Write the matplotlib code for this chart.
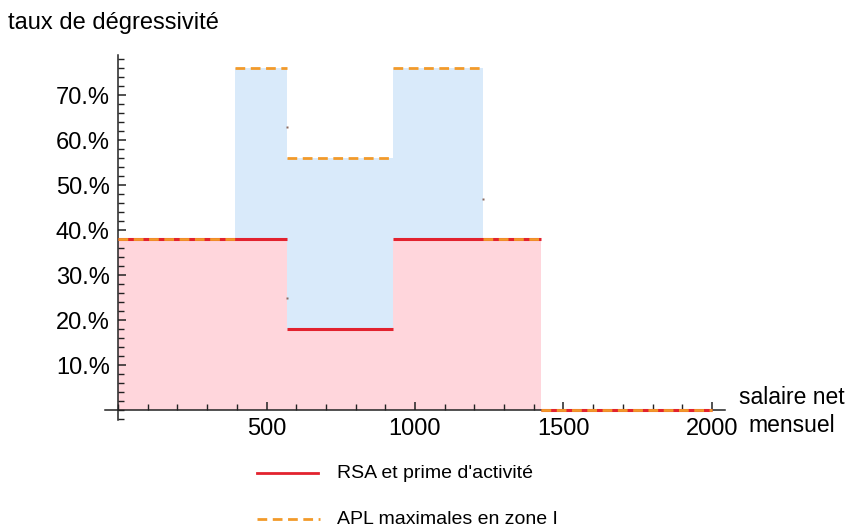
import matplotlib
matplotlib.use("Agg")
import matplotlib.pyplot as plt
import numpy as np
from matplotlib.ticker import MultipleLocator, FixedLocator
from matplotlib.lines import Line2D

plt.rcParams['font.family'] = ['Liberation Sans', 'DejaVu Sans']

# Data (net monthly salary breakpoints, degressivity rates in %)
rsa_edges = [0, 570, 925, 1425, 2000]
rsa_rates = [38, 18, 38, 0]
apl_edges = [0, 395, 570, 925, 1230, 1425, 2000]
apl_rates = [38, 76, 56, 76, 38, 0]
# small isolated points at discontinuities
dots_x = [570, 570, 1230]
dots_y = [63, 25, 47]

ytick_vals = [10, 20, 30, 40, 50, 60, 70]
ytick_labels = ["10.%", "20.%", "30.%", "40.%", "50.%", "60.%", "70.%"]
xtick_vals = [500, 1000, 1500, 2000]

RED = '#e2222e'
ORANGE = '#f29a2a'
PINK = '#ffd6dc'
BLUE = '#d9eafa'

W, H = 853, 529
fig = plt.figure(figsize=(W / 100, H / 100), dpi=100)
ax = fig.add_axes([105 / W, 1 - 420 / H, (725 - 105) / W, (420 - 55) / H])

ax.set_xlim(-44, 2044)
ax.set_ylim(-2.2, 79)

def step_fill(edges, rates, color):
    e = np.asarray(edges, float)
    r = np.append(rates, rates[-1])
    ax.fill_between(e, 0, r, step='post', color=color, lw=0, zorder=1)

step_fill(apl_edges, apl_rates, BLUE)
step_fill(rsa_edges, rsa_rates, PINK)

ax.hlines(rsa_rates, rsa_edges[:-1], rsa_edges[1:], colors=RED, lw=2.2, zorder=3)
ax.hlines(apl_rates, apl_edges[:-1], apl_edges[1:], colors=ORANGE, lw=2.0,
          linestyles=(0, (3.5, 2)), zorder=4)
ax.plot(dots_x, dots_y, 's', ms=2, color='#8a6a60', mec='none', zorder=5)

for s in ['top', 'right']:
    ax.spines[s].set_visible(False)
ax.spines['left'].set_position(('data', 0))
ax.spines['bottom'].set_position(('data', 0))
for s in ['left', 'bottom']:
    ax.spines[s].set_linewidth(1.1)
    ax.spines[s].set_color('#222222')

ax.yaxis.set_major_locator(FixedLocator(ytick_vals))
ax.set_yticklabels(ytick_labels)
ax.yaxis.set_minor_locator(MultipleLocator(2))
ax.xaxis.set_major_locator(FixedLocator(xtick_vals))
ax.set_xticklabels([str(v) for v in xtick_vals])
ax.xaxis.set_minor_locator(MultipleLocator(100))
ax.tick_params(axis='both', which='major', direction='in', length=6, width=1.1,
               labelsize=17, color='#222222')
ax.tick_params(axis='both', which='minor', direction='in', length=4, width=1.0,
               color='#222222')
ax.tick_params(axis='y', which='major', pad=6)
ax.tick_params(axis='x', which='major', pad=6)
ax.patch.set_visible(False)

fig.text(8 / W, 1 - 23 / H, "taux de dégressivité", fontsize=17, ha='left', va='center')
fig.text(792 / W, 1 - 397 / H, "salaire net", fontsize=16.5, ha='center', va='center')
fig.text(792 / W, 1 - 426 / H, "mensuel", fontsize=16.5, ha='center', va='center')

# Legend (manual)
fig.add_artist(Line2D([257 / W, 318 / W], [1 - 473 / H, 1 - 473 / H], color=RED, lw=2.0))
fig.add_artist(Line2D([257 / W, 320 / W], [1 - 519 / H, 1 - 519 / H], color=ORANGE, lw=2.0,
                      linestyle=(0, (3.5, 2))))
fig.text(337 / W, 1 - 473 / H, "RSA et prime d'activité", fontsize=14, ha='left', va='center')
fig.text(337 / W, 1 - 519 / H, "APL maximales en zone I", fontsize=14, ha='left', va='center')

fig.savefig("out.png", dpi=100)
